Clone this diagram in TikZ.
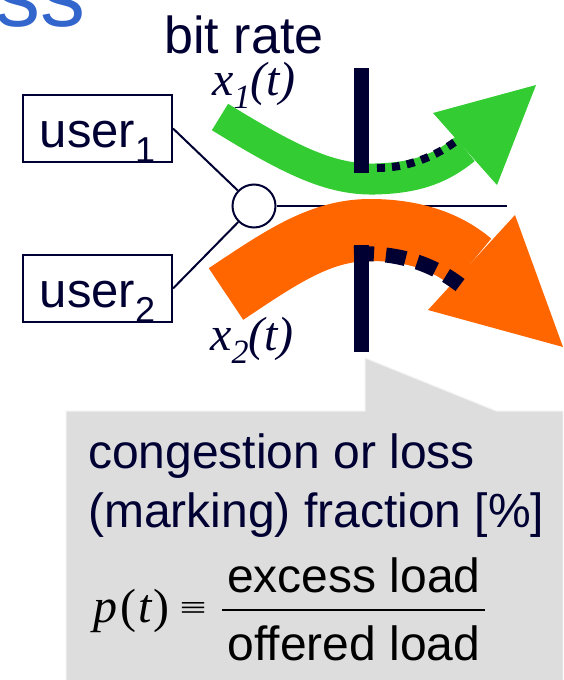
\documentclass[tikz,border=0pt]{standalone}
\usepackage{fontspec}
\usepackage{graphicx}
\setmainfont{Liberation Sans}
\newfontfamily\serifit{Liberation Serif}
\definecolor{navy}{HTML}{000033}
\definecolor{grn}{HTML}{33CC33}
\definecolor{org}{HTML}{FF6600}
\definecolor{ttl}{HTML}{3366CC}
\definecolor{callgray}{HTML}{DDDDDD}
\newcommand\fsz[1]{\fontsize{#1}{#1}\selectfont}
\tikzset{
  userbox/.style={draw=navy, line width=2pt, fill=white, minimum width=149pt,
    minimum height=67pt, inner sep=0pt, text height=37pt, text depth=0pt,
    font=\fsz{49}, text=navy},
  hub/.style={circle, draw=navy, line width=2pt, fill=white, minimum size=43pt, inner sep=0pt},
  link/.style={draw=navy, line width=2pt},
  bar/.style={draw=navy, line width=15pt},
  lbl/.style={inner sep=0pt, anchor=base west},
  callout/.style={fill=callgray, draw=black!5, line width=1pt},
}
\begin{document}
\begin{tikzpicture}[x=1pt,y=-1pt]
\useasboundingbox (0,0) rectangle (563,680);
\clip (0,0) rectangle (563,680);
% callout
\fill[callout] (66,411) -- (365,411) -- (365,358) -- (496,411) -- (563,411) -- (563,681) -- (66,681) -- cycle;
% title remnant
\node[inner sep=0pt, anchor=base east, text=ttl, font=\fsz{90}] (title) at (86,27) {ss};
% users and hub
\node[userbox] (u1) at (97.5,128.5) {user\raisebox{-15pt}{\fsz{36}1}};
\node[userbox] (u2) at (97.5,288.5) {user\raisebox{-15pt}{\fsz{36}2}};
\node[hub] (hub) at (254,206) {};
\coordinate (out) at (507,206);
\draw[link] (u1.east) -- (hub);
\draw[link] (u2.east) -- (hub);
\draw[link] (hub) -- (out);
% green flow
\draw[grn, line width=31pt] (220,117) .. controls (290,160) and (330,180) .. (375,179)
  .. controls (410,178) and (437,172) .. (465,149);
\fill[grn] (433,113) -- (536,85) -- (497,185) -- cycle;
% orange flow
\draw[org, line width=62pt] (226,294) .. controls (280,258) and (320,230) .. (370,230)
  .. controls (410,230) and (445,240) .. (471.5,262.5);
\fill[org] (515,215) -- (563,347) -- (428,310) -- cycle;
% bars
\draw[bar] (361,68) -- (361,173);
\draw[bar] (361,245) -- (361,352);
% dotted excess
\draw[navy, line width=8pt, dash pattern=on 8pt off 7pt] (377,168) .. controls (405,168) and (435,158) .. (460,138);
\draw[navy, line width=15pt, dash pattern=on 20pt off 12pt] (354,254) .. controls (395,252) and (430,262) .. (460,285);
% labels
\node[inner sep=0pt, anchor=base, text=navy, font=\fsz{52}] (br) at (244,53) {bit rate};
\node[lbl, text=navy, font=\serifit\itshape\fsz{48}] (x1) at (212,95) {x\raisebox{-13pt}{\fsz{34}1}(t)};
\node[lbl, text=navy, font=\serifit\itshape\fsz{48}] (x2) at (210,350) {x\raisebox{-13pt}{\fsz{34}2}(t)};
% callout text
\node[lbl, text=black, font=\fsz{48}] (c1) at (88,468) {\color{navy}congestion or loss};
\node[lbl, text=navy, font=\fsz{48}] (c2) at (88,527) {(marking) fraction [\%]};
\node[lbl, text=black, font=\serifit\fsz{48}] (pt) at (93,622) {{\itshape p}\kern3pt(\kern2pt{\itshape t}\kern2pt)\kern10pt\raisebox{4pt}{\resizebox{27pt}{16pt}{≡}}};
\node[inner sep=0pt, anchor=base, font=\fsz{48}] (num) at (354,592) {excess load};
\node[inner sep=0pt, anchor=base, font=\fsz{48}] (den) at (354,660) {offered load};
\coordinate (fl) at (222,610);
\coordinate (fr) at (485,610);
\draw[black, line width=2.5pt] (fl) -- (fr);
\end{tikzpicture}
\end{document}
